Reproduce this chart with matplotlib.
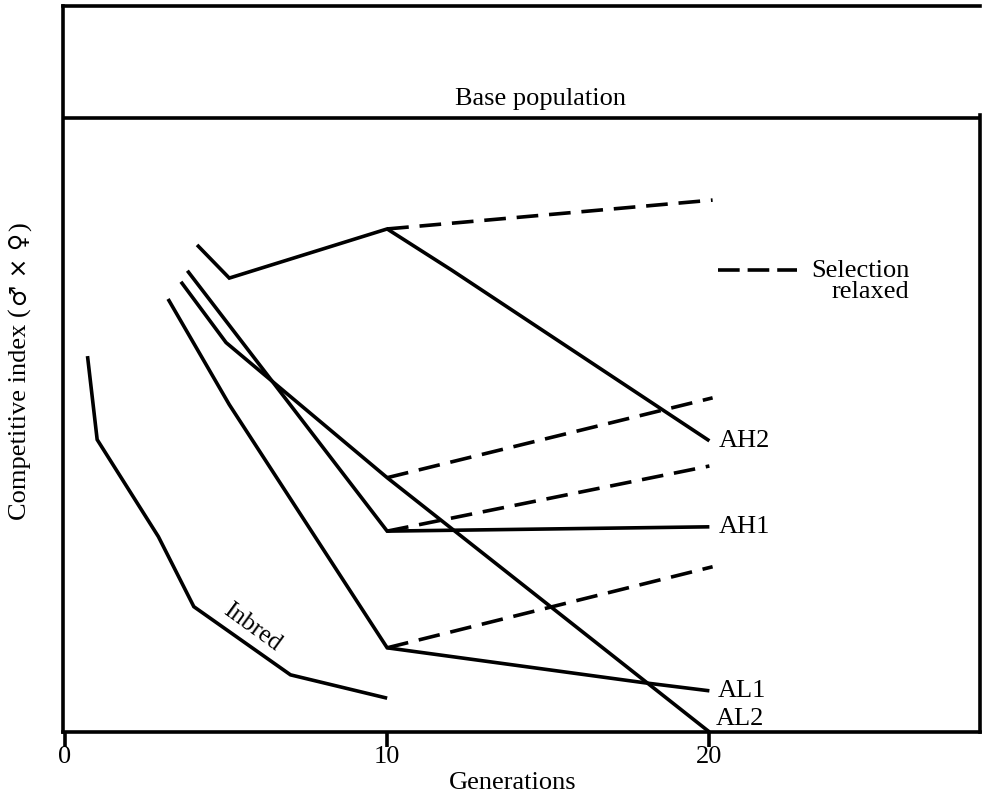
import matplotlib
matplotlib.use("Agg")
import matplotlib.pyplot as plt

# ---- data (generations, competitive index in arbitrary units; base population = 100) ----
base_population = 100

inbred_gen = [0.7, 1.0, 2.9, 4.0, 7.0, 10.0]
inbred_val = [61.2, 47.6, 31.8, 20.4, 9.3, 5.5]

ah2_gen = [4.1, 5.1, 10, 12, 20]
ah2_val = [79.3, 73.9, 81.9, 75.2, 47.4]
ah2_relaxed_gen = [10, 20.1]
ah2_relaxed_val = [81.9, 86.6]

ah1_gen = [3.8, 10, 20]
ah1_val = [75.1, 32.7, 33.4]
ah1_relaxed_gen = [10, 20]
ah1_relaxed_val = [32.7, 43.3]

al2_gen = [3.6, 5.0, 10, 20]
al2_val = [73.3, 63.4, 41.4, 0.0]
al2_relaxed_gen = [10, 20.1]
al2_relaxed_val = [41.4, 54.4]

al1_gen = [3.2, 5.1, 10, 18, 20]
al1_val = [70.5, 53.3, 13.7, 8.0, 6.7]
al1_relaxed_gen = [10, 20.1]
al1_relaxed_val = [13.7, 26.9]

line_labels = ["AH2", "AH1", "AL1", "AL2"]
xticks = [0, 10, 20]

# ---- style ----
serif = ["Liberation Serif", "DejaVu Serif", "DejaVu Sans"]
plt.rcParams["font.family"] = serif
LW = 2.6
DASH = (6.0, 3.0)
FS = 19

fig = plt.figure(figsize=(9.83, 7.99), dpi=100)
ax = fig.add_axes([0.0641, 0.0839, 0.997 - 0.0641, 0.9925 - 0.0839])
ax.set_xlim(-0.06, 28.4)
ax.set_ylim(0, 118.2)

def solid(x, y):
    ax.plot(x, y, color="black", lw=LW, solid_joinstyle="miter", solid_capstyle="butt", clip_on=False)

def dashed(x, y):
    ax.plot(x, y, color="black", lw=LW, dashes=DASH, dash_capstyle="butt", clip_on=False)

solid(inbred_gen, inbred_val)
solid(ah2_gen, ah2_val)
dashed(ah2_relaxed_gen, ah2_relaxed_val)
solid(ah1_gen, ah1_val)
dashed(ah1_relaxed_gen, ah1_relaxed_val)
solid(al2_gen, al2_val)
dashed(al2_relaxed_gen, al2_relaxed_val)
solid(al1_gen, al1_val)
dashed(al1_relaxed_gen, al1_relaxed_val)

# base population line
ax.axhline(base_population, color="black", lw=LW)
ax.text(14.75, base_population + 2.1, "Base population", ha="center", va="baseline", fontsize=FS)

# line labels
ax.text(20.3, ah2_val[-1], line_labels[0], ha="left", va="center", fontsize=FS)
ax.text(20.3, ah1_val[-1], line_labels[1], ha="left", va="center", fontsize=FS)
ax.text(20.25, al1_val[-1], line_labels[2], ha="left", va="center", fontsize=FS)
ax.text(20.2, al2_val[-1] + 1.1, line_labels[3], ha="left", va="baseline", fontsize=FS)

# inbred label
ax.text(5.81, 17.1, "Inbred", rotation=-36, rotation_mode="anchor", ha="center", va="center", fontsize=18)

# legend for dashed lines
ax.plot([20.28, 22.73], [75.2, 75.2], color="black", lw=LW, dashes=(6.0, 2.2), dash_capstyle="butt")
ax.text(26.2, 74.1, "Selection", ha="right", va="baseline", fontsize=FS)
ax.text(26.2, 70.7, "relaxed", ha="right", va="baseline", fontsize=FS)

# axes styling
for s in ax.spines.values():
    s.set_linewidth(LW)
ax.spines["right"].set_bounds(0, base_population + 0.5)
ax.set_xticks(xticks)
ax.set_xticklabels([str(t) for t in xticks], fontsize=FS)
ax.set_yticks([])
ax.tick_params(axis="x", direction="out", length=11, width=LW, pad=-1)
ax.text(13.9, -0.070, "Generations", transform=ax.get_xaxis_transform(),
        ha="center", va="center", fontsize=FS)

# y label: serif words plus sign glyphs from DejaVu Sans
t1 = fig.text(27, 799 - 520, "Competitive index (", transform=None,
              rotation=90, rotation_mode="anchor", ha="left", va="baseline", fontsize=FS)
t2 = ax.annotate("\u2642 \u00d7 \u2640", xy=(27, 1.0), xycoords=("figure pixels", t1),
                 xytext=(0, 1.5), textcoords="offset points",
                 rotation=90, rotation_mode="anchor", ha="left", va="baseline",
                 fontsize=17, family=["DejaVu Sans"], annotation_clip=False)
t3 = ax.annotate(")", xy=(27, 1.0), xycoords=("figure pixels", t2),
                 xytext=(0, 1.5), textcoords="offset points",
                 rotation=90, rotation_mode="anchor", ha="left", va="baseline",
                 fontsize=FS, annotation_clip=False)

fig.savefig("out.png", dpi=100)
